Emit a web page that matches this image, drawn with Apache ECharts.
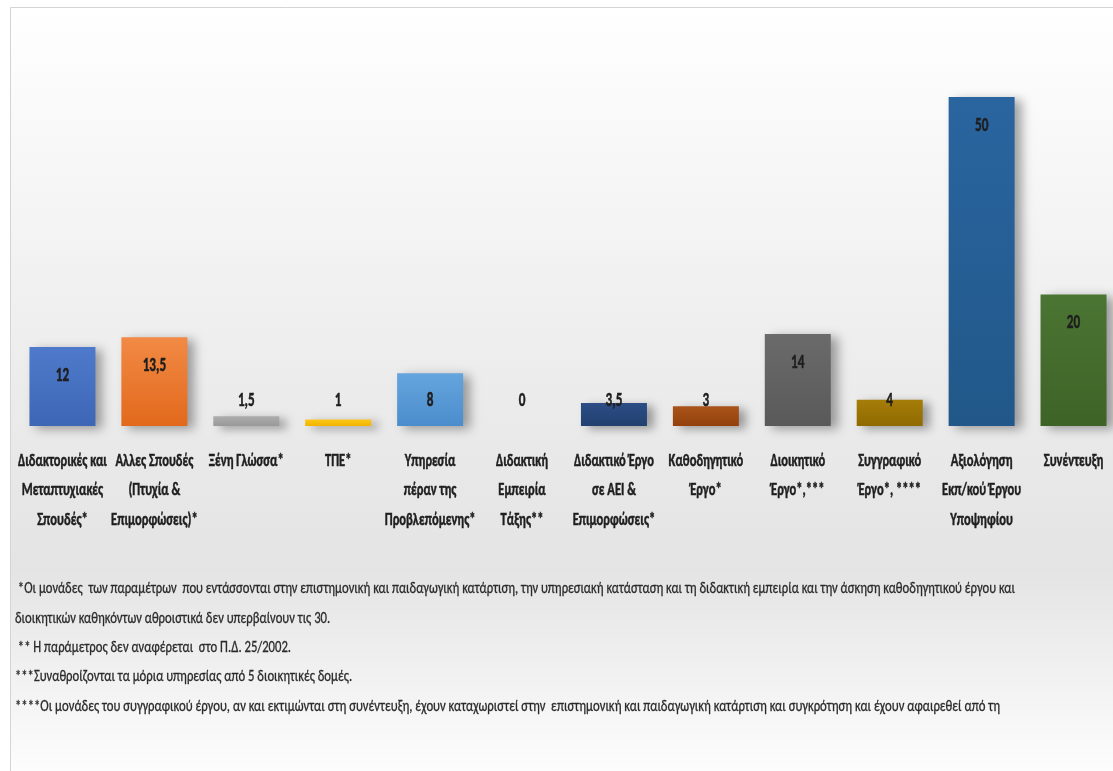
<!DOCTYPE html>
<html>
<head>
<meta charset="utf-8">
<script src="https://cdn.jsdelivr.net/npm/echarts@6/dist/echarts.min.js"></script>
<style>
html,body{margin:0;padding:0;background:#ffffff;}
#main{width:1113px;height:771px;}
</style>
</head>
<body>
<div id="main"></div>
<script>
var categories = [
  "Διδακτορικές και\nΜεταπτυχιακές\nΣπουδές*",
  "Αλλες Σπουδές\n(Πτυχία &\nΕπιμορφώσεις)*",
  "Ξένη Γλώσσα*",
  "ΤΠΕ*",
  "Υπηρεσία\nπέραν της\nΠροβλεπόμενης*",
  "Διδακτική\nΕμπειρία\nΤάξης**",
  "Διδακτικό Έργο\nσε ΑΕΙ &\nΕπιμορφώσεις*",
  "Καθοδηγητικό\nΈργο*",
  "Διοικητικό\nΈργο*,***",
  "Συγγραφικό\nΈργο*, ****",
  "Αξιολόγηση\nΕκπ/κού Έργου\nΥποψηφίου",
  "Συνέντευξη"
];
var values = [12, 13.5, 1.5, 1, 8, 0, 3.5, 3, 14, 4, 50, 20];
var barColors = [
  ["#4f7acb", "#3d66b5"],
  ["#f28a45", "#e2691c"],
  ["#adadad", "#999999"],
  ["#ffc61a", "#f0b400"],
  ["#65a5de", "#4b8dcc"],
  ["#70ad47", "#5f9a3a"],
  ["#2c4d86", "#22406f"],
  ["#a9541a", "#93400c"],
  ["#6b6b6b", "#595959"],
  ["#a67d0a", "#8f6a00"],
  ["#2a65a0", "#215889"],
  ["#4b7533", "#3e6327"]
];
var footnotes = [
  " *Οι μονάδες  των παραμέτρων  που εντάσσονται στην επιστημονική και παιδαγωγική κατάρτιση, την υπηρεσιακή κατάσταση και τη διδακτική εμπειρία και την άσκηση καθοδηγητικού έργου και",
  "διοικητικών καθηκόντων αθροιστικά δεν υπερβαίνουν τις 30.",
  " ** Η παράμετρος δεν αναφέρεται  στο Π.Δ. 25/2002.",
  "***Συναθροίζονται τα μόρια υπηρεσίας από 5 διοικητικές δομές.",
  "****Οι μονάδες του συγγραφικού έργου, αν και εκτιμώνται στη συνέντευξη, έχουν καταχωριστεί στην  επιστημονική και παιδαγωγική κατάρτιση και συγκρότηση και έχουν αφαιρεθεί από τη"
];
var footnoteY = [589, 619, 648, 677, 707];

var FAM = 'Carlito, Calibri, "Roboto Condensed", sans-serif';
var LABEL_FONT = 'bold 19px ' + FAM;
var VALUE_FONT = 'bold 20px ' + FAM;
var FOOT_FONT = '16px ' + FAM;
var SQUEEZE = 0.66;
var TEXT_COLOR = '#1e1e1e';

function fmt(v) { return String(v).replace('.', ','); }

// horizontal squeeze for footnotes, fitted to reference line widths
var mctx = document.createElement('canvas').getContext('2d');
mctx.font = FOOT_FONT;
var footLeft = 15;
var scaleMain = (1015 - footLeft) / mctx.measureText(footnotes[0]).width;
var scaleLast = (1000 - footLeft) / mctx.measureText(footnotes[4]).width;

var chart = echarts.init(document.getElementById('main'));

var barData = values.map(function (v, i) {
  return {
    value: v,
    itemStyle: {
      color: new echarts.graphic.LinearGradient(0, 0, 0, 1, [
        {offset: 0, color: barColors[i][0]},
        {offset: 1, color: barColors[i][1]}
      ])
    }
  };
});

var graphics = [{
  type: 'rect',
  z: -10,
  silent: true,
  shape: {x: 10.5, y: 7.5, width: 1120, height: 780},
  style: {
    fill: new echarts.graphic.LinearGradient(0, 0, 0, 1, [
      {offset: 0, color: '#ffffff'},
      {offset: 0.12, color: '#fafafa'},
      {offset: 0.5, color: '#ebebeb'},
      {offset: 0.72, color: '#e4e4e4'},
      {offset: 1, color: '#ffffff'}
    ]),
    stroke: '#d4d4d4',
    lineWidth: 1
  }
}];
footnotes.forEach(function (t, i) {
  graphics.push({
    type: 'text',
    x: footLeft,
    y: footnoteY[i],
    scaleX: i === 4 ? scaleLast : scaleMain,
    silent: true,
    style: {
      text: t,
      fill: '#2a2a2a',
      stroke: '#2a2a2a',
      lineWidth: 0.3,
      font: FOOT_FONT,
      align: 'left',
      verticalAlign: 'middle'
    }
  });
});

chart.setOption({
  animation: false,
  backgroundColor: '#ffffff',
  graphic: graphics,
  grid: {left: 16.5, right: -6.5, top: 97, bottom: 345, outerBoundsMode: 'none'},
  xAxis: {
    type: 'category',
    data: categories,
    axisLine: {show: false},
    axisTick: {show: false},
    axisLabel: {show: false}
  },
  yAxis: {
    type: 'value',
    min: 0,
    max: 50,
    show: false,
    splitLine: {show: false}
  },
  series: [{
    type: 'bar',
    data: barData,
    barWidth: 66,
    itemStyle: {
      shadowBlur: 10,
      shadowOffsetX: 7,
      shadowOffsetY: 3,
      shadowColor: 'rgba(0,0,0,0.35)'
    }
  }, {
    // value labels (squeezed like the reference)
    type: 'custom',
    clip: false,
    z: 5,
    silent: true,
    data: values.map(function (v, i) { return [i, v]; }),
    renderItem: function (params, api) {
      var i = api.value(0), v = api.value(1);
      var top = api.coord([i, v]);
      var base = api.coord([i, 0]);
      var y = Math.min(top[1] + 29, base[1] - 25);
      return {
        type: 'text',
        x: top[0],
        y: y,
        scaleX: SQUEEZE,
        style: {
          text: fmt(v),
          font: VALUE_FONT,
          fill: TEXT_COLOR,
          stroke: TEXT_COLOR,
          lineWidth: 0.5,
          align: 'center',
          verticalAlign: 'middle'
        }
      };
    }
  }, {
    // category labels under the bars
    type: 'custom',
    clip: false,
    z: 5,
    silent: true,
    data: categories.map(function (c, i) { return [i, 0]; }),
    renderItem: function (params, api) {
      var i = api.value(0);
      var p = api.coord([i, 0]);
      return {
        type: 'text',
        x: p[0],
        y: p[1] + 20,
        scaleX: SQUEEZE,
        style: {
          text: categories[params.dataIndex],
          font: LABEL_FONT,
          lineHeight: 29.5,
          fill: TEXT_COLOR,
          stroke: TEXT_COLOR,
          lineWidth: 0.5,
          align: 'center',
          verticalAlign: 'top'
        }
      };
    }
  }]
});
</script>
</body>
</html>
